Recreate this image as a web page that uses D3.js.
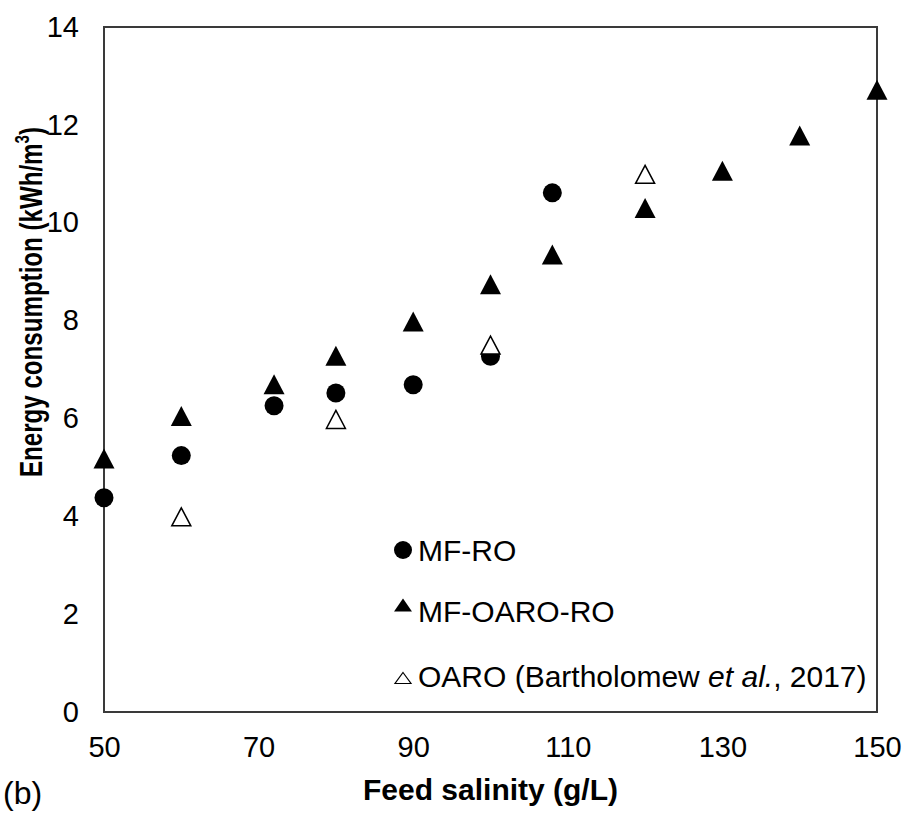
<!DOCTYPE html>
<html>
<head>
<meta charset="utf-8">
<script src="https://cdn.jsdelivr.net/npm/d3@7"></script>
<style>
  body { margin: 0; background: #fff; }
  svg text { font-family: "Liberation Sans", Arial, sans-serif; fill: #000; }
</style>
</head>
<body>
<div id="chart"></div>
<script>
// Energy consumption vs feed salinity
const xTicks = [50, 70, 90, 110, 130, 150];
const yTicks = [0, 2, 4, 6, 8, 10, 12, 14];

const mfroX = [50, 60, 72, 80, 90, 100, 108];
const mfroY = [4.38, 5.24, 6.26, 6.52, 6.69, 7.27, 10.61];

const oaroRoX = [50, 60, 72, 80, 90, 100, 108, 120, 130, 140, 150];
const oaroRoY = [5.18, 6.05, 6.70, 7.28, 7.98, 8.74, 9.35, 10.30, 11.06, 11.78, 12.72];

const oaroX = [60, 80, 100, 120];
const oaroY = [3.99, 5.98, 7.50, 10.99];

const W = 907, H = 816;
const m = { left: 104, right: 30, top: 27, bottom: 104 };

const svg = d3.select("#chart").append("svg")
    .attr("width", W)
    .attr("height", H);

const x = d3.scaleLinear().domain([50, 150]).range([m.left, W - m.right]);
const y = d3.scaleLinear().domain([0, 14]).range([H - m.bottom, m.top]);

// frame
svg.append("rect")
    .attr("x", x(50)).attr("y", y(14))
    .attr("width", x(150) - x(50)).attr("height", y(0) - y(14))
    .attr("fill", "none")
    .attr("stroke", "#3a3a3a")
    .attr("stroke-width", 2);

// axes (labels only, no tick marks)
const xAxis = svg.append("g")
    .attr("transform", `translate(0,${y(0)})`)
    .call(d3.axisBottom(x).tickValues(xTicks).tickSize(0).tickPadding(24));
const yAxis = svg.append("g")
    .attr("transform", `translate(${x(50)},0)`)
    .call(d3.axisLeft(y).tickValues(yTicks).tickSize(0).tickPadding(25));
[xAxis, yAxis].forEach(a => {
    a.select(".domain").remove();
    a.selectAll("text")
        .attr("font-size", "29px")
        .attr("font-family", "Liberation Sans, Arial, sans-serif")
        .attr("fill", "#000");
});

const triPath = (w, h) => `M0,${-h / 2}L${w / 2},${h / 2}L${-w / 2},${h / 2}Z`;

const plot = svg.append("g");

// MF-RO circles
plot.selectAll(".mfro")
    .data(mfroX.map((v, i) => [v, mfroY[i]]))
    .enter().append("circle")
    .attr("class", "mfro")
    .attr("cx", d => x(d[0]))
    .attr("cy", d => y(d[1]))
    .attr("r", 9.5)
    .attr("fill", "#000");

// MF-OARO-RO filled triangles
plot.selectAll(".oaroro")
    .data(oaroRoX.map((v, i) => [v, oaroRoY[i]]))
    .enter().append("path")
    .attr("class", "oaroro")
    .attr("transform", d => `translate(${x(d[0])},${y(d[1])})`)
    .attr("d", triPath(21, 20))
    .attr("fill", "#000");

// OARO open triangles
plot.selectAll(".oaro")
    .data(oaroX.map((v, i) => [v, oaroY[i]]))
    .enter().append("path")
    .attr("class", "oaro")
    .attr("transform", d => `translate(${x(d[0])},${y(d[1])})`)
    .attr("d", triPath(19, 18))
    .attr("fill", "#fff")
    .attr("stroke", "#000")
    .attr("stroke-width", 1.5);

// legend
const lg = svg.append("g").attr("transform", "translate(403,0)");
lg.append("circle").attr("cx", 0).attr("cy", 550).attr("r", 9).attr("fill", "#000");
lg.append("path").attr("transform", "translate(0,605)").attr("d", triPath(18, 13)).attr("fill", "#000");
lg.append("path").attr("transform", "translate(0,678)").attr("d", triPath(16, 11))
    .attr("fill", "#fff").attr("stroke", "#000").attr("stroke-width", 1.2);

lg.append("text").attr("x", 15).attr("y", 561).attr("font-size", "30px").text("MF-RO");
lg.append("text").attr("x", 15).attr("y", 622).attr("font-size", "30px").text("MF-OARO-RO");
const t3 = lg.append("text").attr("x", 15).attr("y", 687).attr("font-size", "30px");
t3.append("tspan").text("OARO (Bartholomew ");
t3.append("tspan").attr("font-style", "italic").text("et al.");
t3.append("tspan").text(", 2017)");

// axis titles
svg.append("text")
    .attr("x", (x(50) + x(150)) / 2)
    .attr("y", 800)
    .attr("text-anchor", "middle")
    .attr("font-size", "30px")
    .attr("font-weight", "bold")
    .text("Feed salinity (g/L)");

// y title is drawn condensed, like the original
const yt = svg.append("text")
    .attr("text-anchor", "middle")
    .attr("font-size", "32px")
    .attr("font-weight", "bold");
yt.append("tspan").text("Energy consumption (kWh/m");
yt.append("tspan").attr("dy", -13).attr("font-size", "20px").text("3");
yt.append("tspan").attr("dy", 13).text(")");
const ytLen = yt.node().getComputedTextLength();
yt.attr("transform", `translate(42,302) rotate(-90) scale(${350 / ytLen},1)`);

svg.append("text")
    .attr("x", 3)
    .attr("y", 804)
    .attr("font-size", "32px")
    .text("(b)");
</script>
</body>
</html>
